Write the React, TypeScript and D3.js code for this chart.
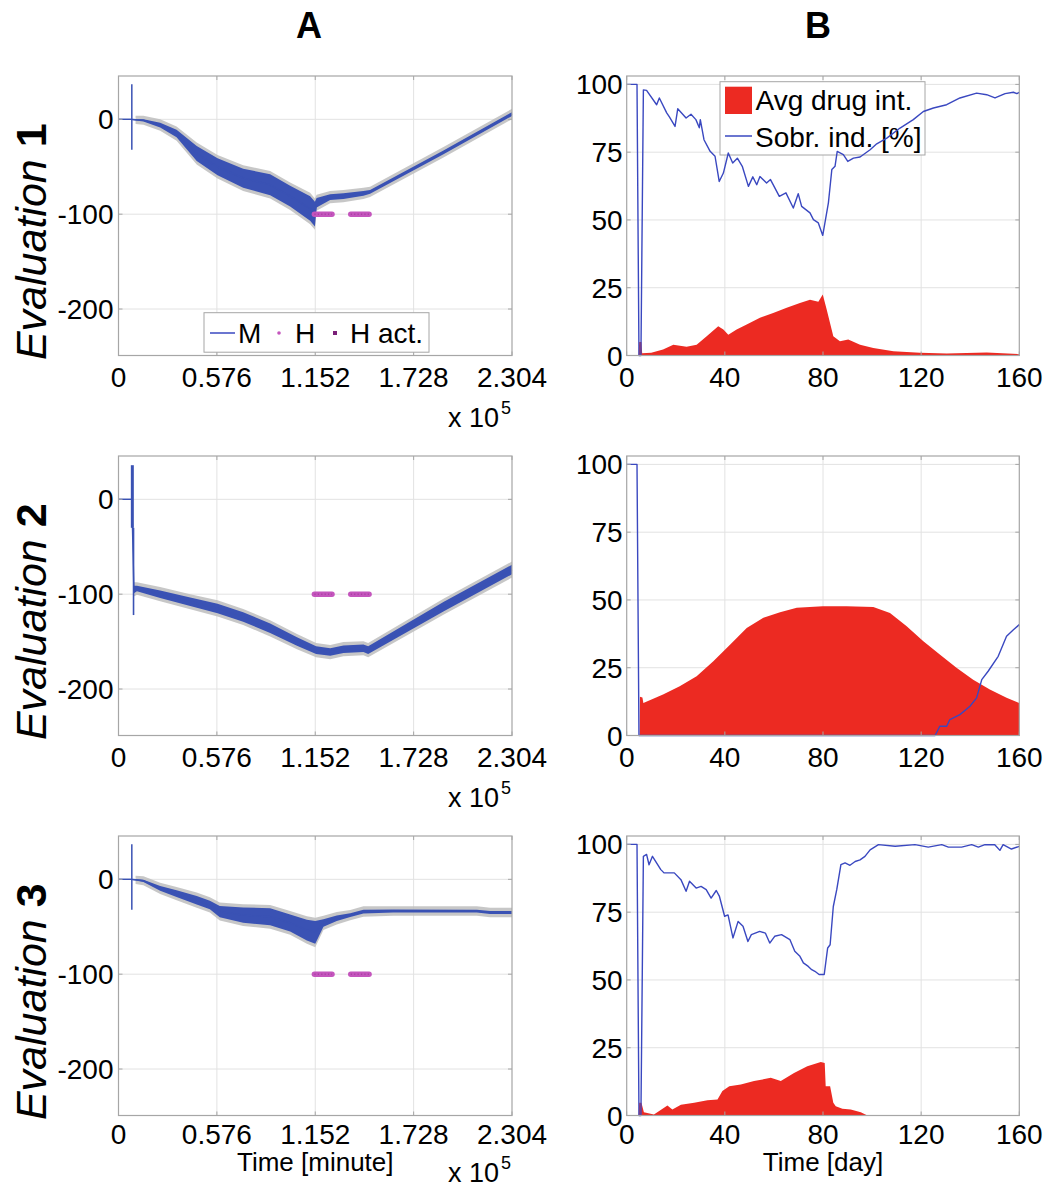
import React from 'react';
import * as d3 from 'd3';

// ---------- tick definitions ----------
const timeTicks = [0, 0.576, 1.152, 1.728, 2.304];
const timeTickLabels = ['0', '0.576', '1.152', '1.728', '2.304'];
const mTicks = [0, -100, -200];
const mTickLabels = ['0', '-100', '-200'];
const dayTicks = [0, 40, 80, 120, 160];
const pctTicks = [0, 25, 50, 75, 100];

// ---------- Panel A data (time in 1e5 minutes) ----------
const tA1 = [0, 0.07, 0.1, 0.146, 0.244, 0.34, 0.458, 0.58, 0.73, 0.888, 1.005, 1.122, 1.15, 1.16, 1.239, 1.317, 1.434, 1.473, 1.9, 2.304];
const mA1 = [0, 0, -0.5, -1, -6, -15, -36, -50, -62, -69, -81, -94, -100, -88, -82, -81, -78, -76.5, -35, 5.6];
const wA1 = [0.5, 0.5, 0.8, 1.2, 2.5, 4, 8, 9, 10, 11, 11, 13, 13, 5, 3, 3, 2.5, 2, 2, 2];

const tA2 = [0, 0.078, 0.09, 0.108, 0.244, 0.42, 0.58, 0.73, 0.888, 1.045, 1.157, 1.24, 1.317, 1.434, 1.462, 1.905, 2.304];
const mA2 = [0, 0, -95, -94, -100, -108, -115, -124, -136, -150, -159, -161, -158, -157, -159, -113, -74];
const wA2 = [0.5, 0.5, 4, 3, 4, 4.5, 5, 5, 5, 4.5, 4, 4, 4, 4, 4, 5, 5];

const tA3 = [0, 0.07, 0.1, 0.146, 0.244, 0.34, 0.458, 0.535, 0.593, 0.73, 0.888, 1.005, 1.103, 1.152, 1.2, 1.278, 1.357, 1.434, 1.609, 2.098, 2.176, 2.304];
const mA3 = [0, 0, -0.5, -1.5, -9.5, -15, -22, -27, -34, -37.7, -39.5, -46, -53.5, -56, -46, -41, -37.7, -34, -33.4, -33.5, -35, -35];
const wA3 = [0.5, 0.5, 0.8, 1.2, 2.5, 3.5, 4.5, 4.5, 6, 8, 9, 9, 11, 12, 4, 3, 2, 2, 1.5, 1.5, 1.5, 1.5];

// initial spikes: time, low, high, stroke width
const spikeA1 = [{ t: 0.078, lo: -32, hi: 37, sw: 1.5 }];
const spikeA2 = [{ t: 0.081, lo: -30, hi: 36, sw: 3 }, { t: 0.088, lo: -122, hi: -30, sw: 1.6 }];
const spikeA3 = [{ t: 0.078, lo: -32, hi: 37, sw: 1.5 }];

// H activation segments
const hSegments = [[1.147, 1.25], [1.36, 1.467]];
const hLevel = -100;

// ---------- Panel B data (days) ----------
const dayB1 = [0, 4.2, 5, 5.8, 6.8, 8.1, 12.2, 13.3, 16.3, 17.4, 19.7, 20.8, 24.2, 26.2, 28.2, 29.6, 30, 31.5, 34, 36, 37.7, 39.4, 41.4, 43.2, 45.1, 47.1, 49.6, 51.4, 53, 54.3, 57, 58.6, 62.2, 64.9, 67.9, 69.9, 71.3, 74.7, 76.1, 78.1, 79.9, 82.2, 83.6, 84.9, 85.8, 88.3, 90.1, 92.4, 95.1, 99.2, 101.9, 106, 111.4, 116.8, 120.9, 125, 130.4, 135.8, 142.6, 146.7, 150.1, 154.2, 157.6, 159, 160];
const sobrB1 = [100, 100, 0, 0, 98, 97.8, 92.5, 95, 89.5, 88, 84.5, 91, 87.6, 89, 87, 84, 87, 79.6, 75.3, 73.5, 64.2, 67.3, 74.7, 71, 72.8, 69.8, 62.4, 65.9, 63, 66, 63.6, 64.9, 58.7, 60, 54.4, 59.7, 55, 52.6, 50.1, 48.9, 44.3, 56.3, 68.6, 69.8, 75.3, 74.1, 71.6, 72.8, 73.2, 75.9, 78.1, 80.2, 83.9, 87, 90, 91.3, 92.5, 95, 96.8, 96.2, 95, 96.6, 97.1, 96.6, 97.1];
const dayB1D = [4.8, 5.1, 6, 6.3, 10, 14.8, 19, 24.4, 28.5, 32.6, 37.3, 39.4, 41.4, 44.8, 48.9, 54.3, 59.7, 65.2, 70.6, 74.7, 78.1, 79.9, 81.5, 84.2, 86.9, 90.3, 95.1, 100.5, 108.7, 119.5, 130.4, 146.7, 160];
const drugB1 = [0, 5, 5, 0.8, 1, 2.2, 4, 3.2, 4, 7.1, 10.8, 9.6, 7.7, 9.6, 11.4, 13.9, 15.7, 17.6, 19.4, 20.6, 19.8, 22.5, 17, 7.1, 5.3, 5.9, 4, 2.8, 1.6, 1, 0.7, 1.1, 0.5];

const dayB2 = [0, 4.2, 5, 125.7, 127.6, 130.4, 131.7, 135.8, 139.9, 142.6, 144.7, 147.3, 151.4, 154.8, 157.6, 160];
const sobrB2 = [100, 100, 0, 0, 3.4, 3.4, 5.9, 7.7, 10.8, 13.9, 20.6, 23.7, 29.2, 36.6, 39, 40.9];
const dayB2D = [5.3, 5.4, 6.4, 6.8, 14.8, 21.6, 28.5, 35.3, 42.1, 48.9, 55.7, 62.5, 69.3, 79.9, 89.6, 100.5, 107.3, 114.1, 120.9, 127.6, 134.4, 141.2, 148, 154.8, 160];
const drugB2 = [0, 14.3, 14, 12, 15.1, 18.2, 21.9, 27.4, 33.5, 39.7, 43.4, 45.5, 47.1, 47.7, 47.7, 47.4, 45.2, 40.3, 34.8, 29.9, 25, 20.6, 17, 13.9, 12];

const dayB3 = [0, 4.2, 5, 5.8, 6.8, 8.1, 9.1, 10.5, 13.9, 15.2, 19.4, 22.1, 24.2, 25.6, 28.3, 30.3, 32.4, 34.4, 36.5, 37.8, 39.9, 41.3, 43.3, 45.4, 47.4, 49.4, 50.8, 54.2, 56.5, 58.3, 60.3, 63.1, 66.5, 68.5, 70.6, 72, 74, 75.4, 76.7, 78.4, 80.5, 81.9, 82.9, 84.2, 85.6, 87.3, 89, 91, 93.1, 95.1, 97.1, 99.2, 102.6, 109.4, 117.5, 122.9, 128.4, 131.1, 136.5, 140.6, 143.3, 146, 150, 152.1, 153.4, 156.8, 160];
const sobrB3 = [100, 100, 0, 0, 95.6, 96.3, 92.5, 95.6, 90.7, 89.5, 89.5, 87, 82.7, 86.4, 83.9, 84.5, 83.3, 80.2, 83, 80.8, 73.5, 74, 65.5, 71.6, 69.8, 64.2, 66.7, 67.9, 67.3, 63.6, 66.1, 66.7, 64.9, 60.6, 58.7, 56.3, 55, 53.8, 53.2, 52, 52, 61.8, 63, 77.1, 83.3, 92.5, 93.2, 92.3, 93.7, 94.3, 95.6, 98, 99.9, 99.3, 99.9, 99, 99.9, 99, 99, 99.9, 99, 99.9, 99.9, 97.8, 99.9, 98.3, 99.3];
const dayB3D = [4.8, 5.1, 6, 7, 11.1, 16.6, 18.6, 22.1, 27.5, 32.9, 37, 39, 41.8, 46.5, 51.9, 58.7, 62.8, 68.2, 73.6, 79.1, 80.7, 81.1, 82.9, 84.2, 85.2, 87.9, 91.3, 95.4, 98.1, 160];
const drugB3 = [0, 4.7, 4.7, 1.2, 0.4, 3.7, 2.2, 4, 4.7, 5.6, 5.9, 9, 10.8, 11.4, 12.7, 13.9, 12.7, 15.7, 18.2, 19.7, 19.4, 10.8, 10.8, 4.7, 3.4, 2.5, 2.2, 1.2, 0, 0];

const evalLabels = ['1', '2', '3'];

// ---------- layout & style ----------
const FONT = '"Liberation Sans", Arial, Helvetica, sans-serif';
const BLUE = '#3a52b4';
const LINE_BLUE = '#3a48c0';
const GRAY_BAND = '#bdbdbd';
const RED = '#ec2a22';
const GRID = '#e2e2e2';
const BOX = '#a6a6a6';
const H_COL = '#c455bd';
const H_DOT = '#9a3593';

const ROW_DY = [0, 380, 760];
const TOP = 76;
const BOT = 355.5;
const AX0 = 118.5, AX1 = 512;
const BX0 = 626.7, BX1 = 1019.3;

function Frame({ x0, x1, y0, y1, xs, ys, xTicks, yTicks }: any) {
  return (
    <g>
      {xTicks.slice(1, -1).map((v: number, i: number) => (
        <line key={'gx' + i} x1={xs(v)} x2={xs(v)} y1={y0} y2={y1} stroke={GRID} strokeWidth={1} />
      ))}
      {yTicks.map((v: number, i: number) => (
        ys(v) > y0 + 1 && ys(v) < y1 - 1 ? <line key={'gy' + i} x1={x0} x2={x1} y1={ys(v)} y2={ys(v)} stroke={GRID} strokeWidth={1} /> : null
      ))}
    </g>
  );
}

function Border({ x0, x1, y0, y1, xs, ys, xTicks, yTicks }: any) {
  const tl = 4;
  return (
    <g>
      <rect x={x0} y={y0} width={x1 - x0} height={y1 - y0} fill="none" stroke={BOX} strokeWidth={1.2} />
      {xTicks.map((v: number, i: number) => (
        <g key={'tx' + i}>
          <line x1={xs(v)} x2={xs(v)} y1={y1} y2={y1 - tl} stroke={BOX} />
          <line x1={xs(v)} x2={xs(v)} y1={y0} y2={y0 + tl} stroke={BOX} />
        </g>
      ))}
      {yTicks.map((v: number, i: number) => (
        <g key={'ty' + i}>
          <line x1={x0} x2={x0 + tl} y1={ys(v)} y2={ys(v)} stroke={BOX} />
          <line x1={x1} x2={x1 - tl} y1={ys(v)} y2={ys(v)} stroke={BOX} />
        </g>
      ))}
    </g>
  );
}

function PanelA({ row, t, m, w, spikes, legend, bottomLabel }: any) {
  const dy = ROW_DY[row];
  const y0 = TOP + dy, y1 = BOT + dy;
  const xs = d3.scaleLinear().domain([0, 2.304]).range([AX0, AX1]);
  const ys = d3.scaleLinear().domain([-249, 45.7]).range([y1, y0]);
  const idx = d3.range(t.length);
  const gray = d3.area<number>().x(i => xs(t[i])).y0(i => ys(m[i] - w[i] - 3.5)).y1(i => ys(m[i] + w[i] + 3.5));
  const blue = d3.area<number>().x(i => xs(t[i])).y0(i => ys(m[i] - w[i])).y1(i => ys(m[i] + w[i]));
  const mid = d3.line<number>().x(i => xs(t[i])).y(i => ys(m[i]));
  const tickY = row === 2 ? y1 + 28 : y1 + 31.5;
  const expY = row === 2 ? y1 + 66 : y1 + 71;
  return (
    <g>
      <Frame x0={AX0} x1={AX1} y0={y0} y1={y1} xs={xs} ys={ys} xTicks={timeTicks} yTicks={mTicks} />
      <path d={gray(idx.slice(2)) || ''} fill={GRAY_BAND} opacity={0.85} />
      <path d={blue(idx) || ''} fill={BLUE} />
      <path d={mid(idx) || ''} fill="none" stroke={BLUE} strokeWidth={1.4} />
      {spikes.map((s: any, i: number) => (
        <line key={'sp' + i} x1={xs(s.t)} x2={xs(s.t)} y1={ys(s.lo)} y2={ys(s.hi)} stroke={BLUE} strokeWidth={s.sw} />
      ))}
      {hSegments.map((s, i) => (
        <g key={'h' + i}>
          <line x1={xs(s[0])} x2={xs(s[1])} y1={ys(hLevel)} y2={ys(hLevel)} stroke={H_COL} strokeWidth={5.5} strokeLinecap="round" />
          <line x1={xs(s[0])} x2={xs(s[1])} y1={ys(hLevel)} y2={ys(hLevel)} stroke={H_DOT} strokeWidth={1.6} strokeDasharray="1.2 2.2" opacity={0.6} />
        </g>
      ))}
      <Border x0={AX0} x1={AX1} y0={y0} y1={y1} xs={xs} ys={ys} xTicks={timeTicks} yTicks={mTicks} />
      {mTicks.map((v, i) => (
        <text key={'yl' + i} x={AX0 - 5} y={ys(v)} dy="0.36em" textAnchor="end" fontSize={28} fontFamily={FONT}>{mTickLabels[i]}</text>
      ))}
      {timeTicks.map((v, i) => (
        <text key={'xl' + i} x={xs(v)} y={tickY} textAnchor="middle" fontSize={28} fontFamily={FONT}>{timeTickLabels[i]}</text>
      ))}
      <text x={448} y={expY} fontSize={27} fontFamily={FONT}>x 10</text>
      <text x={501} y={expY - 13} fontSize={18} fontFamily={FONT}>5</text>
      {bottomLabel && (
        <text x={(AX0 + AX1) / 2} y={y1 + 55} textAnchor="middle" fontSize={26} fontFamily={FONT}>Time [minute]</text>
      )}
      {legend && (
        <g>
          <rect x={204} y={312.7} width={225} height={39.5} fill="#fff" stroke={BOX} strokeWidth={1} />
          <line x1={210} x2={235} y1={333} y2={333} stroke={LINE_BLUE} strokeWidth={1.5} />
          <text x={238} y={343} fontSize={28} fontFamily={FONT}>M</text>
          <circle cx={279} cy={333} r={1.8} fill={H_COL} />
          <text x={295} y={343} fontSize={28} fontFamily={FONT}>H</text>
          <rect x={333} y={331} width={4} height={4} fill="#7a1f78" />
          <text x={350} y={343} fontSize={28} fontFamily={FONT}>H act.</text>
        </g>
      )}
    </g>
  );
}

function PanelB({ row, dayL, sobr, dayD, drug, legend, bottomLabel }: any) {
  const dy = ROW_DY[row];
  const y0 = TOP + dy, y1 = BOT + dy;
  const xs = d3.scaleLinear().domain([0, 160]).range([BX0, BX1]);
  const ys = d3.scaleLinear().domain([0, 103.1]).range([y1, y0]);
  const areaGen = d3.area<number>().x(i => xs(dayD[i])).y0(ys(0)).y1(i => ys(drug[i]));
  const lineGen = d3.line<number>().x(i => xs(dayL[i])).y(i => ys(sobr[i]));
  const tickY = row === 2 ? y1 + 28 : y1 + 31.5;
  return (
    <g>
      <Frame x0={BX0} x1={BX1} y0={y0} y1={y1} xs={xs} ys={ys} xTicks={dayTicks} yTicks={pctTicks} />
      {legend && (
        <g>
          <rect x={720} y={81.7} width={205} height={73.3} fill="#fff" stroke={BOX} strokeWidth={1} />
          <rect x={725} y={86.7} width={27} height={27.3} fill={RED} />
          <text x={755.5} y={110} fontSize={28} fontFamily={FONT}>Avg drug int.</text>
          <line x1={725} x2={752} y1={136} y2={136} stroke={LINE_BLUE} strokeWidth={1.5} />
          <text x={755} y={146.5} fontSize={28} fontFamily={FONT}>Sobr. ind. [%]</text>
        </g>
      )}
      <path d={areaGen(d3.range(dayD.length)) || ''} fill={RED} />
      <path d={lineGen(d3.range(dayL.length)) || ''} fill="none" stroke={LINE_BLUE} strokeWidth={1.4} strokeLinejoin="round" />
      <Border x0={BX0} x1={BX1} y0={y0} y1={y1} xs={xs} ys={ys} xTicks={dayTicks} yTicks={pctTicks} />
      {pctTicks.map((v, i) => (
        <text key={'yl' + i} x={BX0 - 4} y={ys(v)} dy="0.36em" textAnchor="end" fontSize={28} fontFamily={FONT}>{String(v)}</text>
      ))}
      {dayTicks.map((v, i) => (
        <text key={'xl' + i} x={xs(v)} y={tickY} textAnchor="middle" fontSize={28} fontFamily={FONT}>{String(v)}</text>
      ))}
      {bottomLabel && (
        <text x={(BX0 + BX1) / 2} y={y1 + 55} textAnchor="middle" fontSize={26} fontFamily={FONT}>Time [day]</text>
      )}
    </g>
  );
}

export default function App() {
  const aData = [
    { t: tA1, m: mA1, w: wA1, s: spikeA1 },
    { t: tA2, m: mA2, w: wA2, s: spikeA2 },
    { t: tA3, m: mA3, w: wA3, s: spikeA3 },
  ];
  const bData = [
    { dl: dayB1, s: sobrB1, dd: dayB1D, d: drugB1 },
    { dl: dayB2, s: sobrB2, dd: dayB2D, d: drugB2 },
    { dl: dayB3, s: sobrB3, dd: dayB3D, d: drugB3 },
  ];
  return (
    <svg width={1047} height={1189} style={{ position: 'absolute', left: 0, top: 0, background: '#fff' }}>
      <rect x={0} y={0} width={1047} height={1189} fill="#fff" />
      <text x={309} y={38} textAnchor="middle" fontSize={36} fontWeight="bold" fontFamily={FONT}>A</text>
      <text x={818} y={38} textAnchor="middle" fontSize={36} fontWeight="bold" fontFamily={FONT}>B</text>
      {aData.map((d, r) => (
        <PanelA key={'a' + r} row={r} t={d.t} m={d.m} w={d.w} spikes={d.s} legend={r === 0} bottomLabel={r === 2} />
      ))}
      {bData.map((d, r) => (
        <PanelB key={'b' + r} row={r} dayL={d.dl} sobr={d.s} dayD={d.dd} drug={d.d} legend={r === 0} bottomLabel={r === 2} />
      ))}
      {evalLabels.map((lab, r) => {
        const cy = (TOP + BOT) / 2 + ROW_DY[r] + 26;
        return (
          <text key={'ev' + r} transform={`translate(46,${cy}) rotate(-90)`} textAnchor="middle" fontSize={43} fontFamily={FONT}>
            <tspan fontStyle="italic">Evaluation</tspan>
            <tspan fontWeight="bold"> {lab}</tspan>
          </text>
        );
      })}
    </svg>
  );
}
